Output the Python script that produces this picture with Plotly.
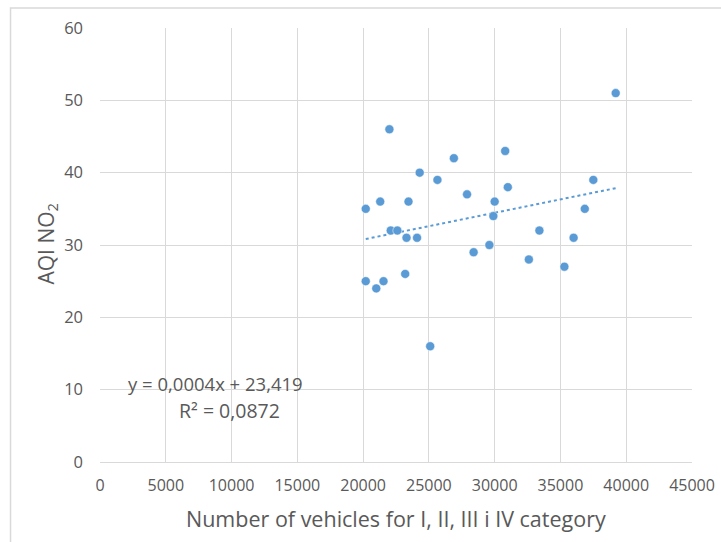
import numpy as np
import plotly.graph_objects as go

# vehicles (I-IV category) vs AQI NO2
vehicles = [39200, 22000, 30800, 26900, 24300, 25650, 37500, 31000, 27900, 20200,
            21300, 23450, 30000, 36850, 29900, 22100, 22600, 33400, 23300, 24100,
            36000, 29600, 28400, 32600, 35300, 23200, 20200, 21550, 21000, 25100]
aqi_no2 = [51, 46, 43, 42, 40, 39, 39, 38, 37, 35,
           36, 36, 36, 35, 34, 32, 32, 32, 31, 31,
           31, 30, 29, 28, 27, 26, 25, 25, 24, 16]

x_ticks = list(range(0, 45001, 5000))
y_ticks = list(range(0, 61, 10))

eq_text = "y = 0,0004x + 23,419"
r2_text = "R² = 0,0872"

BLUE = "#5B9BD5"
GRID = "#D9D9D9"
TEXT = "#595959"
FONT = "Open Sans"

# plot area in pixels
L, R, T, B = 99.5, 691.7, 28, 462
W, H = 721, 542


def px_x(p):
    return (p - L) / (R - L)


def px_y(p):
    return (B - p) / (B - T)


# linear trendline fitted on the data
slope, intercept = np.polyfit(vehicles, aqi_no2, 1)
trend_x = [min(vehicles), max(vehicles)]
trend_y = [slope * v + intercept for v in trend_x]

fig = go.Figure()
fig.add_trace(go.Scatter(
    x=trend_x, y=trend_y, mode="lines",
    line=dict(color=BLUE, width=2, dash="dot"),
    hoverinfo="skip",
))
fig.add_trace(go.Scatter(
    x=vehicles, y=aqi_no2, mode="markers",
    marker=dict(color=BLUE, size=9, line=dict(color="white", width=0.5)),
))

fig.add_annotation(
    x=px_x(215), y=px_y(383), xref="paper", yref="paper",
    text=eq_text, showarrow=False, xanchor="center", yanchor="middle",
    font=dict(family=FONT, size=18.5, color=TEXT),
)
fig.add_annotation(
    x=px_x(229), y=px_y(410), xref="paper", yref="paper",
    text=r2_text, showarrow=False, xanchor="center", yanchor="middle",
    font=dict(family=FONT, size=19.5, color=TEXT),
)
# axis titles placed directly so they sit where the reference has them
fig.add_annotation(
    x=px_x(396), y=px_y(518), xref="paper", yref="paper",
    text="Number of vehicles for I, II, III i IV category", showarrow=False,
    xanchor="center", yanchor="middle",
    font=dict(family=FONT, size=21.5, color=TEXT),
)
fig.add_annotation(
    x=px_x(46), y=px_y(244), xref="paper", yref="paper",
    text="AQI NO<sub>2</sub>", showarrow=False, textangle=-90,
    xanchor="center", yanchor="middle",
    font=dict(family=FONT, size=21, color=TEXT),
)

# light outer chart border like the spreadsheet chart area
fig.add_shape(
    type="rect", xref="paper", yref="paper",
    x0=px_x(10), x1=px_x(760), y0=px_y(600), y1=px_y(8),
    line=dict(color=GRID, width=1.5), layer="below",
)

fig.update_layout(
    width=W, height=H,
    margin=dict(l=L, r=W - R, t=T, b=H - B),
    paper_bgcolor="white", plot_bgcolor="white",
    showlegend=False,
    font=dict(family=FONT, color=TEXT, size=15),
)
fig.update_xaxes(
    range=[0, 45000], tickvals=x_ticks, ticktext=[str(t) for t in x_ticks],
    showgrid=True, gridcolor=GRID, gridwidth=1,
    showline=True, linecolor=GRID, linewidth=1, zeroline=False,
    ticks="", ticklabelstandoff=9, tickfont=dict(size=16, color=TEXT),
    automargin=False,
)
fig.update_yaxes(
    range=[0, 60], tickvals=y_ticks,
    showgrid=True, gridcolor=GRID, gridwidth=1,
    showline=False, zeroline=False,
    ticks="", ticklabelstandoff=16, tickfont=dict(size=16.5, color=TEXT),
    automargin=False,
)

# drop the page's default body margin so the figure sits at (0, 0)
fig.write_html(
    "out.html",
    config={"displayModeBar": False},
    post_script="document.body.style.margin='0';",
)
